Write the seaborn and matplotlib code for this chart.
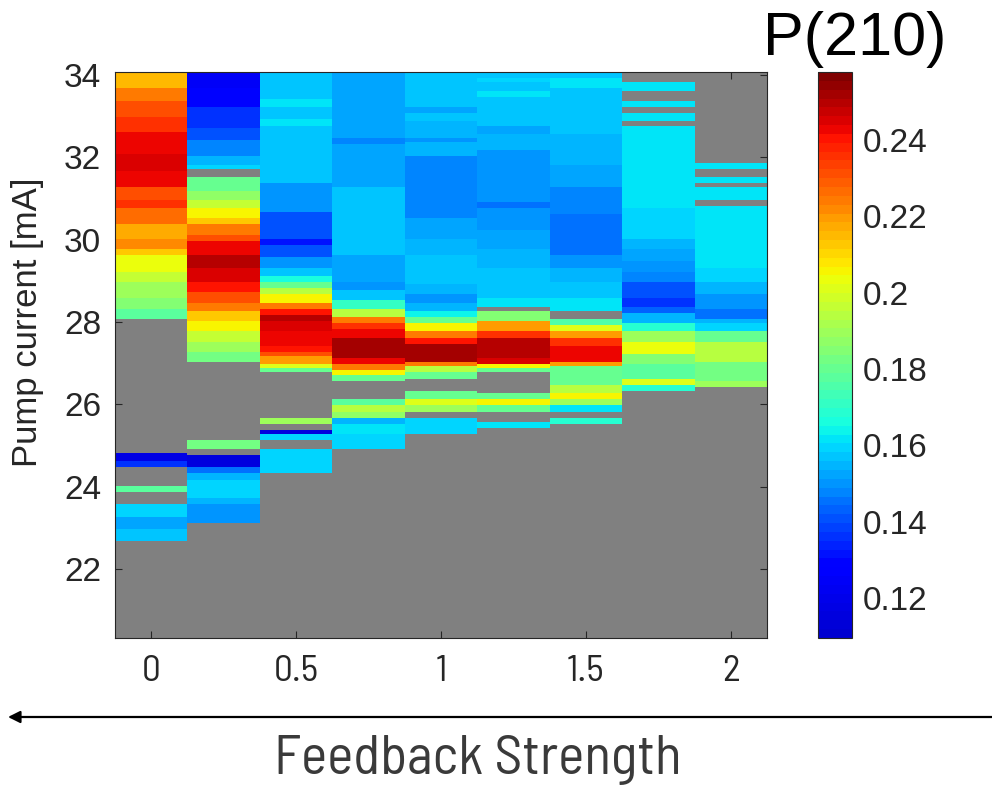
import numpy as np
import pandas as pd
import matplotlib
matplotlib.use("Agg")
import matplotlib.pyplot as plt
from matplotlib.colors import ListedColormap
import seaborn as sns

# ---------------- data ----------------
feedback = [0, 0.25, 0.5, 0.75, 1.0, 1.25, 1.5, 1.75, 2.0]
x_tick_labels = ["0", "0.5", "1", "1.5", "2"]
y_ticks = [22, 24, 26, 28, 30, 32, 34]
cbar_ticks = [0.12, 0.14, 0.16, 0.18, 0.20, 0.22, 0.24]
cbar_tick_labels = ["0.12", "0.14", "0.16", "0.18", "0.2", "0.22", "0.24"]
p_min, p_max = 0.1095, 0.2578
y_top, y_bottom, y_step = 34.07, 20.30, 0.05

# bands of constant P(210): (upper current mA, lower current mA, value)
bands_fb000 = [
    (34.10, 33.68, 0.215), (33.68, 33.36, 0.225), (33.36, 32.95, 0.230),
    (32.95, 32.63, 0.235), (32.63, 32.06, 0.243), (32.06, 31.66, 0.246),
    (31.66, 31.25, 0.242), (31.25, 30.97, 0.232), (30.97, 30.76, 0.236),
    (30.76, 30.36, 0.226), (30.36, 30.03, 0.218), (30.03, 29.79, 0.222),
    (29.79, 29.63, 0.212), (29.63, 29.22, 0.203), (29.22, 28.98, 0.196),
    (28.98, 28.57, 0.190), (28.57, 28.33, 0.185), (28.33, 28.09, 0.178),
    (24.80, 24.64, 0.118), (24.64, 24.48, 0.135), (24.03, 23.87, 0.178),
    (23.59, 23.26, 0.159), (23.26, 22.97, 0.152), (22.97, 22.69, 0.157),
]
bands_fb025 = [
    (34.10, 33.68, 0.125), (33.68, 33.20, 0.130), (33.20, 32.71, 0.135),
    (32.71, 32.43, 0.140), (32.43, 32.02, 0.148), (32.02, 31.82, 0.154),
    (31.82, 31.70, 0.159), (31.53, 31.17, 0.180), (31.17, 30.97, 0.188),
    (30.97, 30.76, 0.196), (30.76, 30.52, 0.205), (30.52, 30.36, 0.213),
    (30.36, 30.12, 0.225), (30.12, 29.99, 0.232), (29.99, 29.63, 0.243),
    (29.63, 29.30, 0.249), (29.30, 28.98, 0.245), (28.98, 28.74, 0.240),
    (28.74, 28.49, 0.232), (28.49, 28.25, 0.225), (28.25, 28.00, 0.212),
    (28.00, 27.76, 0.205), (27.76, 27.52, 0.196), (27.52, 27.28, 0.190),
    (27.28, 27.03, 0.182), (25.10, 24.92, 0.182), (24.76, 24.48, 0.115),
    (24.48, 24.32, 0.145), (24.32, 24.15, 0.154), (24.15, 23.71, 0.160),
    (23.71, 23.55, 0.154), (23.55, 23.14, 0.150),
]
bands_fb050 = [
    (34.10, 33.40, 0.157), (33.40, 33.20, 0.161), (33.20, 32.91, 0.156),
    (32.91, 32.75, 0.161), (32.75, 31.37, 0.156), (31.37, 30.68, 0.150),
    (30.68, 30.03, 0.140), (30.03, 29.87, 0.132), (29.87, 29.59, 0.140),
    (29.59, 29.30, 0.150), (29.30, 29.14, 0.156), (29.14, 28.98, 0.166),
    (28.98, 28.82, 0.180), (28.82, 28.66, 0.195), (28.66, 28.49, 0.205),
    (28.49, 28.33, 0.225), (28.33, 28.17, 0.240), (28.17, 28.01, 0.250),
    (28.01, 27.76, 0.245), (27.76, 27.44, 0.242), (27.44, 27.28, 0.240),
    (27.28, 27.15, 0.232), (27.15, 26.99, 0.220), (26.99, 26.87, 0.200),
    (26.87, 26.75, 0.180), (25.69, 25.53, 0.190), (25.39, 25.25, 0.115),
    (25.25, 25.10, 0.160), (24.92, 24.32, 0.160),
]
bands_fb075 = [
    (34.10, 32.47, 0.152), (32.47, 32.30, 0.147), (32.30, 31.25, 0.152),
    (31.25, 29.63, 0.156), (29.63, 28.98, 0.152), (28.98, 28.78, 0.150),
    (28.78, 28.53, 0.156), (28.53, 28.33, 0.170), (28.33, 28.13, 0.195),
    (28.13, 27.97, 0.225), (27.97, 27.80, 0.235), (27.80, 27.60, 0.243),
    (27.60, 27.11, 0.252), (27.11, 26.95, 0.242), (26.95, 26.83, 0.225),
    (26.83, 26.71, 0.205), (26.71, 26.59, 0.180), (26.14, 25.98, 0.178),
    (25.98, 25.82, 0.193), (25.82, 25.69, 0.188), (25.69, 25.53, 0.154),
    (25.53, 25.25, 0.161), (25.25, 24.92, 0.160),
]
bands_fb100 = [
    (34.10, 33.20, 0.156), (33.20, 33.08, 0.152), (33.08, 32.87, 0.156),
    (32.87, 32.47, 0.154), (32.47, 32.35, 0.150), (32.35, 32.02, 0.154),
    (32.02, 30.52, 0.148), (30.52, 30.03, 0.152), (30.03, 29.63, 0.155),
    (29.63, 28.90, 0.157), (28.90, 28.65, 0.154), (28.65, 28.49, 0.150),
    (28.49, 28.25, 0.155), (28.25, 28.13, 0.165), (28.13, 27.97, 0.180),
    (27.97, 27.76, 0.205), (27.76, 27.64, 0.225), (27.64, 27.48, 0.240),
    (27.48, 27.03, 0.252), (27.03, 26.91, 0.225), (26.91, 26.79, 0.195),
    (26.79, 26.63, 0.180), (26.30, 26.14, 0.180), (26.14, 25.98, 0.200),
    (25.98, 25.82, 0.190), (25.69, 25.25, 0.160),
]
bands_fb125 = [
    (34.10, 33.93, 0.156), (33.93, 33.80, 0.160), (33.80, 33.64, 0.156),
    (33.64, 33.48, 0.161), (33.48, 32.75, 0.156), (32.75, 32.59, 0.153),
    (32.59, 32.18, 0.155), (32.18, 30.93, 0.150), (30.93, 30.76, 0.145),
    (30.76, 30.20, 0.150), (30.20, 29.79, 0.153), (29.79, 29.30, 0.155),
    (29.30, 28.57, 0.157), (28.57, 28.37, 0.161), (28.25, 28.00, 0.185),
    (28.00, 27.76, 0.220), (27.76, 27.60, 0.235), (27.60, 27.11, 0.250),
    (27.11, 26.99, 0.245), (26.99, 26.87, 0.205), (26.87, 26.75, 0.180),
    (26.26, 26.14, 0.180), (26.14, 25.98, 0.205), (25.98, 25.82, 0.180),
    (25.57, 25.41, 0.161),
]
bands_fb150 = [
    (34.10, 33.93, 0.156), (33.93, 33.68, 0.161), (33.68, 32.59, 0.157),
    (32.59, 31.82, 0.154), (31.82, 31.25, 0.152), (31.25, 30.60, 0.148),
    (30.60, 29.63, 0.145), (29.63, 29.30, 0.150), (29.30, 28.98, 0.155),
    (28.98, 28.57, 0.157), (28.57, 28.25, 0.161), (28.09, 27.93, 0.175),
    (27.93, 27.76, 0.200), (27.76, 27.60, 0.220), (27.60, 27.44, 0.235),
    (27.44, 27.03, 0.243), (27.03, 26.91, 0.220), (26.91, 26.47, 0.180),
    (26.47, 26.26, 0.195), (26.26, 26.14, 0.205), (26.14, 25.98, 0.190),
    (25.98, 25.82, 0.162), (25.69, 25.53, 0.168),
]
bands_fb175 = [
    (33.80, 33.64, 0.161), (33.36, 33.20, 0.161), (33.05, 32.89, 0.161),
    (32.75, 30.76, 0.161), (30.76, 30.03, 0.159), (30.03, 29.79, 0.155),
    (29.79, 29.47, 0.153), (29.47, 29.22, 0.151), (29.22, 28.98, 0.148),
    (28.98, 28.57, 0.141), (28.57, 28.37, 0.137), (28.37, 28.21, 0.143),
    (28.21, 27.97, 0.154), (27.97, 27.76, 0.168), (27.76, 27.52, 0.190),
    (27.52, 27.20, 0.203), (27.20, 26.95, 0.185), (26.95, 26.63, 0.178),
    (26.63, 26.47, 0.200), (26.47, 26.30, 0.168),
]
bands_fb200 = [
    (31.86, 31.70, 0.161), (31.53, 31.37, 0.161), (31.25, 30.97, 0.161),
    (30.80, 29.30, 0.161), (29.30, 28.98, 0.159), (28.98, 28.65, 0.154),
    (28.65, 28.33, 0.150), (28.33, 28.09, 0.145), (28.09, 27.97, 0.154),
    (27.97, 27.76, 0.160), (27.76, 27.52, 0.180), (27.52, 27.03, 0.195),
    (27.03, 26.59, 0.182), (26.59, 26.42, 0.190),
]
all_bands = [bands_fb000, bands_fb025, bands_fb050, bands_fb075, bands_fb100,
             bands_fb125, bands_fb150, bands_fb175, bands_fb200]

# ---------------- grid ----------------
n_rows = int(round((y_top - y_bottom) / y_step))
centers = y_top - y_step / 2 - np.arange(n_rows) * y_step
grid = np.full((n_rows, len(feedback)), np.nan)
for j, bands in enumerate(all_bands):
    for hi, lo, val in bands:
        sel = (centers < hi) & (centers >= lo)
        grid[sel, j] = val
df = pd.DataFrame(grid, index=np.round(centers, 3), columns=feedback)

# ---------------- plot ----------------
sns.set_style("white")
plt.rcParams["font.family"] = ["Liberation Sans", "DejaVu Sans"]
narrow = ["Barlow Semi Condensed", "Archivo Narrow", "Liberation Sans"]

W, H = 992, 786
fig = plt.figure(figsize=(W / 100, H / 100), dpi=100)
ax = fig.add_axes([115 / W, 1 - 638 / H, (767 - 115) / W, (638 - 72) / H])
cax = fig.add_axes([818 / W, 1 - 638 / H, (852 - 818) / W, (638 - 72) / H])

base = plt.get_cmap("jet")(np.linspace(0, 1, 64))
base[:8, 2] = np.linspace(0.82, 1.0, 8)
cmap = ListedColormap(base)

sns.heatmap(df, ax=ax, cbar_ax=cax, cmap=cmap, vmin=p_min, vmax=p_max,
            xticklabels=False, yticklabels=False)
ax.set_facecolor("#808080")

for s in ax.spines.values():
    s.set_visible(True)
    s.set_color("#262626")
    s.set_linewidth(0.8)

ytick_pos = [(y_top - v) / y_step for v in y_ticks]
ax.set_yticks(ytick_pos)
ax.set_yticklabels([str(v) for v in y_ticks], fontsize=24, color="#262626")
xtick_pos = [j + 0.5 for j, f in enumerate(feedback) if (f * 2) == int(f * 2)]
ax.set_xticks(xtick_pos)
ax.set_xticklabels(x_tick_labels, fontsize=27, color="#2b2b2b", family=narrow,
                   fontweight="normal")
ax.tick_params(axis="both", direction="in", length=5, width=0.8,
               left=True, right=True, top=True, bottom=True,
               labelleft=True, labelbottom=True, colors="#262626")
ax.tick_params(axis="x", pad=12)
ax.tick_params(axis="y", pad=10)
ax.set_xlabel("")
ax.set_ylabel("")

cbar = ax.collections[0].colorbar
cbar.set_ticks(cbar_ticks)
cbar.set_ticklabels(cbar_tick_labels)
cbar.ax.tick_params(labelsize=24, direction="in", length=5, width=0.8,
                    colors="#262626", pad=8)
cbar.outline.set_visible(True)
cbar.outline.set_edgecolor("#262626")
cbar.outline.set_linewidth(0.8)

fig.text(28 / W, 1 - 322 / H, "Pump current [mA]", rotation=90, ha="center",
         va="center", fontsize=25, color="#262626")
fig.text(855 / W, 1 - 40 / H, "P(210)", ha="center", va="center",
         fontsize=44, color="black")
fig.text(478 / W, 1 - 760 / H, "Feedback Strength", ha="center", va="center",
         fontsize=40, color="#3a3a3a", family=narrow, fontweight="normal")

ax.annotate("", xy=(8 / W, 1 - 717 / H), xytext=(1.0, 1 - 717 / H),
            xycoords="figure fraction", textcoords="figure fraction",
            arrowprops=dict(arrowstyle="-|>", color="black", lw=1.6,
                            mutation_scale=18, shrinkA=0, shrinkB=0),
            annotation_clip=False)

fig.savefig("out.png", dpi=100)
